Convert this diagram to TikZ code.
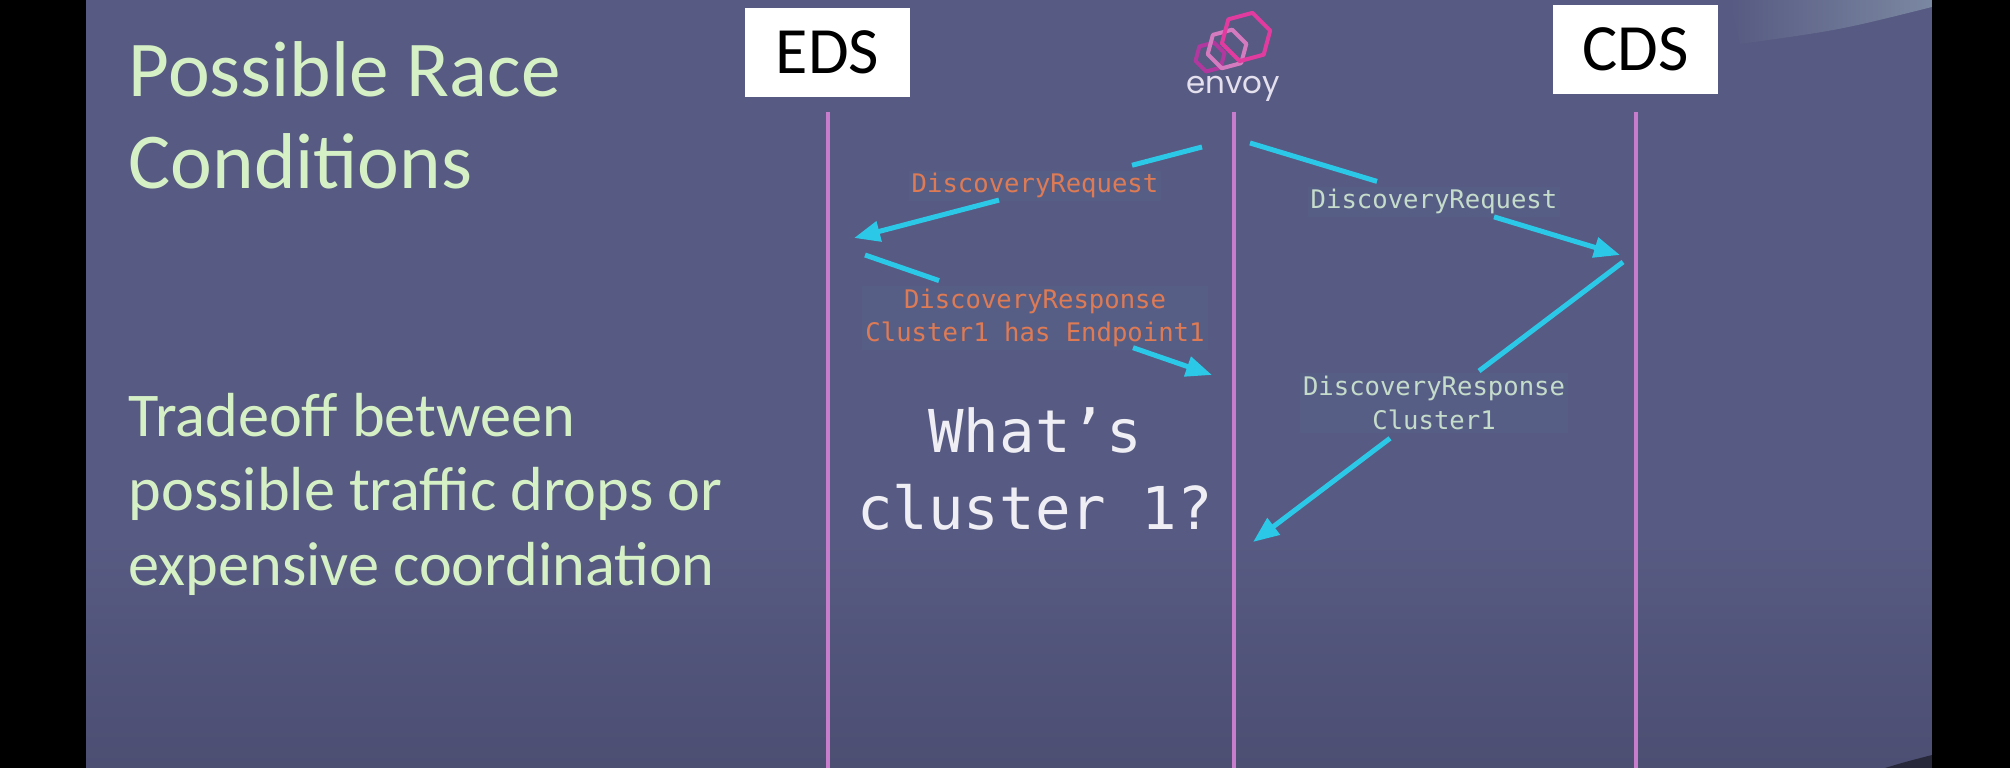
\documentclass[tikz,border=0pt]{standalone}
\usepackage{fontspec}
\usetikzlibrary{arrows.meta}
\newfontfamily\carl{Carlito}
\newfontfamily\dmono{DejaVu Sans Mono}
\newfontfamily\pop{Poppins}
\definecolor{bg}{HTML}{575A82}
\definecolor{bgdark}{HTML}{4C4E72}
\definecolor{mint}{HTML}{D6F0C6}
\definecolor{lifeC}{HTML}{C77DCC}
\definecolor{cyanA}{HTML}{2CC8E8}
\definecolor{orangeL}{HTML}{DE7B55}
\definecolor{paleL}{HTML}{C6DCCB}
\definecolor{lblbg}{HTML}{575E86}
\definecolor{hexA}{HTML}{E23BA0}
\definecolor{hexB}{HTML}{D47ABF}
\definecolor{hexC}{HTML}{B0389E}
\definecolor{envoyT}{HTML}{E4E0EE}
\definecolor{qtext}{HTML}{EEEEF4}
\definecolor{glare}{HTML}{7B88A2}
\begin{document}
\begin{tikzpicture}[x=0.01cm,y=-0.01cm,
  life/.style={draw=lifeC,line width=0.04cm},
  msg/.style={draw=cyanA,line width=0.05cm},
  msgend/.style={msg,-{Triangle[length=0.26cm,width=0.2cm]}},
  hdr/.style={fill=white,minimum width=1.65cm,minimum height=0.89cm,inner sep=0pt,text=black,font=\carl\fontsize{18.8pt}{22pt}\selectfont},
  lbl/.style={fill=lblbg,inner sep=0.03cm,align=center,font=\dmono\fontsize{7.28pt}{9.6pt}\selectfont},
  ttl/.style={anchor=base west,inner sep=0pt,text=mint,font=\carl\fontsize{22.5pt}{26pt}\selectfont},
  body/.style={anchor=base west,inner sep=0pt,text=mint,font=\carl\fontsize{17.7pt}{21pt}\selectfont},
  hexline/.style={line width=0.04cm,line join=round}
]
% background
\useasboundingbox (0,0) rectangle (2010,768);
\fill[bg] (0,0) rectangle (2010,768);
\shade[top color=bg,bottom color=bgdark] (86,540) rectangle (1932,768);
\shade[left color=bg,right color=glare] (1730,0) -- (1932,0) -- (1932,7) .. controls (1840,30) .. (1740,44) -- cycle;
\fill[black!55!bg] (1885,768) .. controls (1905,762) .. (1932,755) -- (1932,768) -- cycle;
\fill[black] (0,0) rectangle (86,768);
\fill[black] (1932,0) rectangle (2010,768);

% left texts
\node[ttl] (t1) at (128,97) {Possible Race};
\node[ttl] (t2) at (128,189) {Conditions};
\node[body] (b1) at (128,437) {Tradeoff between};
\node[body] (b2) at (128,511) {possible traffic drops or};
\node[body] (b3) at (128,586) {expensive coordination};

% headers
\node[hdr] (eds) at (827.5,52.5) {EDS};
\node[hdr] (cds) at (1635.5,49.5) {CDS};

% envoy logo
\draw[hexline,draw=hexC] (1210,57) +(105:15) -- +(165:15) -- +(225:15) -- +(285:15) -- +(345:15) -- +(45:15) -- cycle;
\draw[hexline,draw=hexB] (1227,49) +(105:20) -- +(165:20) -- +(225:20) -- +(285:20) -- +(345:20) -- +(45:20) -- cycle;
\draw[hexline,draw=hexA] (1246,37) +(105:25) -- +(165:25) -- +(225:25) -- +(285:25) -- +(345:25) -- +(45:25) -- cycle;
\node[anchor=base,inner sep=0pt,text=envoyT,font=\pop\fontsize{8.8pt}{10pt}\selectfont] (envoy) at (1233,94) {envoy};

% lifelines
\coordinate (edsT) at (828,112);  \coordinate (edsB) at (828,768);
\coordinate (envT) at (1234,112); \coordinate (envB) at (1234,768);
\coordinate (cdsT) at (1636,112); \coordinate (cdsB) at (1636,768);
\draw[life] (edsT) -- (edsB);
\draw[life] (envT) -- (envB);
\draw[life] (cdsT) -- (cdsB);

% labels
\node[lbl,text=orangeL,anchor=base] (l1) at (1035,193) {DiscoveryRequest};
\node[lbl,text=orangeL] (l2) at (1035,318) {DiscoveryResponse\\Cluster1 has Endpoint1};
\node[lbl,text=paleL,anchor=base] (l3) at (1434,209) {DiscoveryRequest};
\node[lbl,text=paleL] (l4) at (1434,403) {DiscoveryResponse\\Cluster1};

% question
\node[align=center,inner sep=0pt,text=qtext,font=\dmono\fontsize{16.8pt}{21.9pt}\selectfont] (q) at (1035,469) {What’s\\cluster 1?};

% messages
\coordinate (a1s) at (1202,147);  \coordinate (a1m) at (1132,165.3);
\coordinate (a1n) at (999,200.1); \coordinate (a1e) at (854,238);
\draw[msg] (a1s) -- (a1m);
\draw[msgend] (a1n) -- (a1e);

\coordinate (a2s) at (865,255);    \coordinate (a2m) at (939,280.6);
\coordinate (a2n) at (1133,347.7); \coordinate (a2e) at (1212,375);
\draw[msg] (a2s) -- (a2m);
\draw[msgend] (a2n) -- (a2e);

\coordinate (a3s) at (1250,143);   \coordinate (a3m) at (1377,181.4);
\coordinate (a3n) at (1494,216.9); \coordinate (a3e) at (1620,255);
\draw[msg] (a3s) -- (a3m);
\draw[msgend] (a3n) -- (a3e);

\coordinate (a4s) at (1623,262);   \coordinate (a4m) at (1479,371);
\coordinate (a4n) at (1390,438.3); \coordinate (a4e) at (1253,542);
\draw[msg] (a4s) -- (a4m);
\draw[msgend] (a4n) -- (a4e);
\end{tikzpicture}
\end{document}
